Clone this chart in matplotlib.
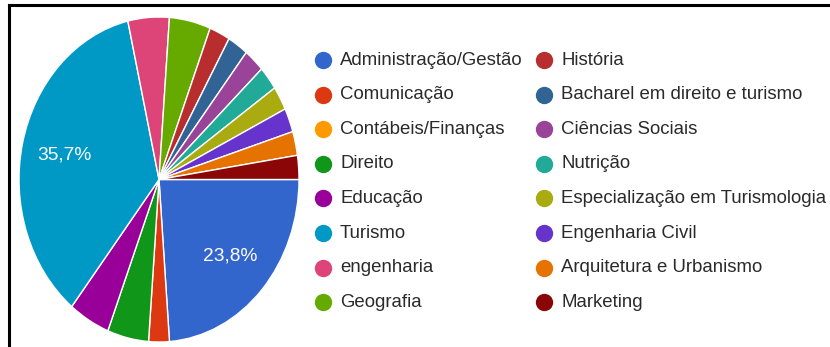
import matplotlib
matplotlib.use("Agg")
import matplotlib.pyplot as plt
from matplotlib.lines import Line2D

plt.rcParams['font.family'] = ['Liberation Sans', 'DejaVu Sans']

categories = [
    "Administração/Gestão", "Comunicação", "Contábeis/Finanças", "Direito",
    "Educação", "Turismo", "engenharia", "Geografia", "História",
    "Bacharel em direito e turismo", "Ciências Sociais", "Nutrição",
    "Especialização em Turismologia", "Engenharia Civil",
    "Arquitetura e Urbanismo", "Marketing",
]
counts = [10, 1, 0, 2, 2, 15, 2, 2, 1, 1, 1, 1, 1, 1, 1, 1]
colors = [
    "#3366cc", "#dc3912", "#ff9900", "#109618", "#990099", "#0099c6",
    "#dd4477", "#66aa00", "#b82e2e", "#316395", "#994499", "#22aa99",
    "#aaaa11", "#6633cc", "#e67300", "#8b0707",
]

W, H = 830, 347
fig = plt.figure(figsize=(W / 100, H / 100), dpi=100)

# pie area (elliptical, stretched vertically)
px0, px1, py0, py1 = 19, 299, 17, 342
ax = fig.add_axes([px0 / W, 1 - py1 / H, (px1 - px0) / W, (py1 - py0) / H])

vals = [v for v in counts if v > 0]
cols = [c for v, c in zip(counts, colors) if v > 0]


def pct_label(p):
    return f"{p:.1f}%".replace(".", ",") if p > 10 else ""


wedges, _, autotexts = ax.pie(
    vals, colors=cols, startangle=0, counterclock=False,
    autopct=pct_label, pctdistance=0.69,
    wedgeprops=dict(edgecolor="white", linewidth=1.0),
    textprops=dict(color="white", fontsize=13.8),
)
ax.set_aspect("auto")
ax.set_xlim(-1, 1)
ax.set_ylim(-1, 1)
ax.axis("off")

# legend drawn in pixel coordinates
lax = fig.add_axes([0, 0, 1, 1])
lax.set_xlim(0, W)
lax.set_ylim(H, 0)
lax.axis("off")
lax.patch.set_alpha(0)

row_y0, row_dy = 60, 34.6
col_x = [323, 544]
for i, (name, col) in enumerate(zip(categories, colors)):
    c, r = divmod(i, 8)
    y = row_y0 + r * row_dy
    lax.plot(col_x[c], y, "o", color=col, markersize=12.5, markeredgewidth=0)
    lax.text(col_x[c] + 17, y, name, fontsize=13.4, color="#2a2a2a",
             va="center", ha="left")

# frame lines on top and left
lax.add_line(Line2D([9, W], [5, 5], color="black", linewidth=2.2))
lax.add_line(Line2D([9, 9], [5, H], color="black", linewidth=2.2))

fig.savefig("out.png", dpi=100, facecolor="white")
